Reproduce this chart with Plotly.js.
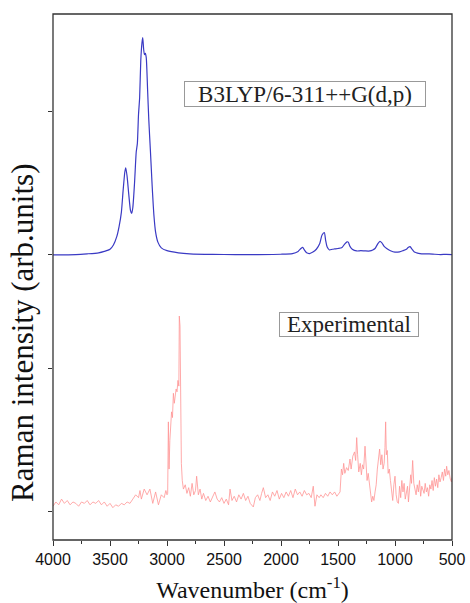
<!DOCTYPE html>
<html>
<head>
<meta charset="utf-8">
<script src="https://cdn.plot.ly/plotly-3.0.1.min.js"></script>
<style>html,body{margin:0;padding:0;background:#fff;}#chart{width:470px;height:603px;}</style>
</head>
<body>
<div id="chart"></div>
<script>
// Calculated (B3LYP/6-311++G(d,p)) Raman spectrum
const calcWavenumber = [4000,3800,3700,3600,3550,3500,3470,3440,3420,3400,3385,3370,3362,3350,3335,3320,3310,3300,3285,3270,3260,3250,3240,3230,3220,3213,3205,3198,3190,3182,3170,3160,3145,3130,3115,3100,3080,3050,3000,2900,2800,2600,2400,2200,2000,1900,1850,1825,1810,1795,1775,1750,1720,1690,1660,1640,1620,1608,1595,1575,1550,1530,1500,1468,1440,1420,1410,1395,1375,1336,1300,1260,1219,1195,1175,1150,1132,1115,1095,1073,1040,1000,960,930,900,885,868,850,830,810,780,750,700,650,600,550,500];
const calcIntensity  = [0,0.003,0.008,0.015,0.025,0.04,0.07,0.13,0.2,0.3,0.45,0.58,0.61,0.55,0.42,0.31,0.29,0.33,0.5,0.72,0.78,0.98,1.1,1.36,1.48,1.52,1.44,1.4,1.41,1.38,1.15,0.95,0.72,0.48,0.28,0.16,0.09,0.05,0.03,0.015,0.008,0.004,0.003,0.003,0.005,0.01,0.025,0.045,0.054,0.035,0.015,0.01,0.02,0.04,0.08,0.14,0.156,0.1,0.055,0.035,0.04,0.042,0.045,0.05,0.078,0.092,0.09,0.06,0.04,0.028,0.03,0.028,0.028,0.035,0.045,0.08,0.095,0.085,0.06,0.045,0.03,0.02,0.022,0.03,0.04,0.052,0.058,0.04,0.02,0.015,0.01,0.008,0.008,0.005,0.003,0.004,0.002];

// Experimental Raman spectrum
const expWavenumber = [4000,3975,3950,3925,3900,3875,3850,3825,3800,3775,3750,3725,3700,3675,3650,3625,3600,3575,3550,3525,3500,3475,3450,3425,3400,3375,3350,3325,3300,3275,3250,3237,3225,3200,3175,3150,3125,3100,3075,3050,3025,3010,3000,2994,2988,2982,2975,2968,2960,2952,2944,2936,2928,2920,2912,2904,2896,2892,2886,2880,2874,2866,2856,2840,2825,2810,2795,2780,2765,2750,2740,2725,2710,2695,2680,2660,2640,2620,2600,2580,2560,2540,2520,2500,2480,2460,2447,2430,2410,2390,2370,2350,2330,2310,2290,2270,2243,2225,2205,2185,2170,2155,2135,2115,2095,2075,2055,2035,2015,1995,1975,1955,1935,1915,1895,1875,1855,1835,1815,1795,1775,1755,1735,1717,1702,1685,1665,1650,1630,1610,1590,1570,1550,1530,1510,1495,1482,1470,1460,1450,1440,1425,1410,1395,1385,1370,1355,1345,1336,1328,1318,1305,1295,1285,1275,1263,1255,1245,1235,1225,1215,1205,1195,1185,1175,1165,1155,1145,1135,1125,1115,1105,1095,1088,1082,1076,1068,1060,1050,1040,1030,1020,1010,1000,990,980,970,960,950,940,930,920,910,900,890,882,872,862,855,845,835,825,815,805,795,785,775,765,755,745,735,725,715,705,695,685,675,665,655,645,635,625,615,605,595,585,575,565,555,547,537,527,515,505,500];
const expIntensity  = [0.04,0.07,0.05,0.09,0.06,0.08,0.05,0.07,0.06,0.04,0.07,0.06,0.08,0.05,0.07,0.06,0.08,0.05,0.07,0.04,0.06,0.03,0.05,0.04,0.06,0.05,0.07,0.06,0.09,0.12,0.10,0.15,0.09,0.16,0.12,0.16,0.06,0.14,0.05,0.12,0.10,0.15,0.12,0.13,0.63,0.30,0.50,0.62,0.70,0.66,0.83,0.76,0.80,0.86,0.84,0.92,0.88,1.37,1.30,0.60,0.34,0.22,0.16,0.19,0.13,0.17,0.11,0.20,0.12,0.15,0.25,0.12,0.16,0.09,0.13,0.08,0.11,0.07,0.10,0.14,0.09,0.07,0.10,0.06,0.09,0.05,0.16,0.08,0.11,0.07,0.12,0.09,0.13,0.08,0.11,0.06,0.035,0.10,0.12,0.08,0.13,0.17,0.10,0.12,0.08,0.14,0.11,0.15,0.09,0.13,0.10,0.14,0.11,0.15,0.10,0.16,0.12,0.14,0.11,0.15,0.12,0.13,0.10,0.18,0.04,0.12,0.10,0.12,0.10,0.13,0.11,0.14,0.12,0.14,0.11,0.13,0.14,0.30,0.26,0.34,0.27,0.31,0.29,0.37,0.30,0.39,0.42,0.36,0.52,0.40,0.28,0.34,0.26,0.33,0.30,0.46,0.30,0.22,0.27,0.20,0.12,0.07,0.11,0.08,0.14,0.19,0.30,0.38,0.44,0.33,0.40,0.30,0.34,0.45,0.63,0.40,0.43,0.27,0.30,0.22,0.16,0.08,0.19,0.25,0.12,0.07,0.06,0.18,0.10,0.22,0.14,0.20,0.09,0.15,0.18,0.07,0.18,0.26,0.20,0.36,0.20,0.17,0.12,0.19,0.14,0.22,0.11,0.18,0.15,0.13,0.20,0.14,0.17,0.11,0.19,0.16,0.22,0.15,0.24,0.18,0.23,0.17,0.26,0.21,0.24,0.28,0.22,0.30,0.25,0.32,0.26,0.29,0.23,0.21,0.24];

const xTickVals = [4000,3500,3000,2500,2000,1500,1000,500];
const xTickText = ["4000","3500","3000","2500","2000","1500","1000","500"];
const calcLabel = "B3LYP/6-311++G(d,p)";
const expLabel = "Experimental";

const split = 0.4886;

const traces = [
  {x: calcWavenumber, y: calcIntensity, type: 'scatter', mode: 'lines', xaxis: 'x', yaxis: 'y2',
   line: {color: '#3a3ac4', width: 1.2, shape: 'spline', smoothing: 0.6}, hoverinfo: 'skip'},
  {x: expWavenumber, y: expIntensity, type: 'scatter', mode: 'lines', xaxis: 'x', yaxis: 'y',
   line: {color: '#ff9494', width: 0.8}, hoverinfo: 'skip'}
];

const serif = '"Liberation Serif", "Times New Roman", serif';
const sans = '"Liberation Sans", Arial, sans-serif';

const yCommon = {tickmode: 'array', tickvals: [0, 1], showticklabels: false, ticks: 'outside',
  ticklen: 4, tickwidth: 1, tickcolor: '#333', showgrid: false, zeroline: false, showline: false, fixedrange: true};

const layout = {
  width: 470, height: 603,
  margin: {l: 53, r: 18, t: 14, b: 63},
  paper_bgcolor: '#fff', plot_bgcolor: '#fff',
  showlegend: false,
  xaxis: {range: [4000, 500], anchor: 'y', tickmode: 'array', tickvals: xTickVals, ticktext: xTickText,
    ticks: 'outside', ticklen: 5, tickwidth: 1, tickcolor: '#333',
    minor: {ticks: 'outside', ticklen: 3, tickwidth: 1, tickcolor: '#333', dtick: 250, tick0: 250},
    showgrid: false, zeroline: false, showline: false,
    tickfont: {family: sans, size: 16, color: '#111'},
    title: {text: 'Wavenumber (cm<sup>-1</sup>)', font: {family: serif, size: 24, color: '#111'}, standoff: 16}},
  yaxis: Object.assign({domain: [0, split], range: [-0.196, 1.601]}, yCommon),
  yaxis2: Object.assign({domain: [split, 1], range: [-0.196, 1.685], anchor: 'x'}, yCommon),
  shapes: [{type: 'rect', xref: 'paper', yref: 'paper', x0: 0, x1: 1, y0: 0, y1: 1,
    line: {color: '#333', width: 1.3}}],
  annotations: [
    {text: 'Raman intensity (arb.units)', xref: 'paper', yref: 'paper', x: -0.078, y: 0.3935,
     xanchor: 'center', yanchor: 'middle', textangle: -90, showarrow: false,
     font: {family: serif, size: 31, color: '#111'}},
    {text: calcLabel, xref: 'paper', yref: 'paper', x: 0.6316, y: 0.848, xanchor: 'center', yanchor: 'middle',
     showarrow: false, width: 240, height: 24, borderpad: 0, bordercolor: '#999', borderwidth: 1,
     font: {family: serif, size: 23, color: '#222'}},
    {text: expLabel, xref: 'paper', yref: 'paper', x: 0.7419, y: 0.4097, xanchor: 'center', yanchor: 'middle',
     showarrow: false, width: 138, height: 23, borderpad: 0, bordercolor: '#999', borderwidth: 1,
     font: {family: serif, size: 23, color: '#222'}}
  ]
};

Plotly.newPlot('chart', traces, layout, {staticPlot: true, displayModeBar: false});
</script>
</body>
</html>
